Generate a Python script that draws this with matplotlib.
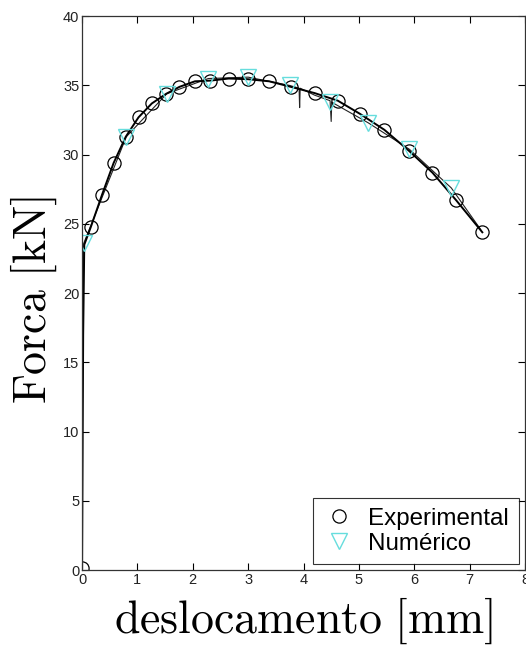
import matplotlib
matplotlib.use('Agg')
import matplotlib.pyplot as plt

# experimental points (markers)
exp_x = [0.0, 0.16, 0.36, 0.57, 0.79, 1.02, 1.26, 1.52, 1.76, 2.04, 2.32, 2.65,
         3.0, 3.38, 3.77, 4.2, 4.62, 5.02, 5.46, 5.9, 6.33, 6.76, 7.23]
exp_y = [0.15, 24.8, 27.1, 29.4, 31.3, 32.7, 33.7, 34.4, 34.9, 35.3, 35.35, 35.5,
         35.45, 35.3, 34.9, 34.45, 33.9, 32.95, 31.8, 30.3, 28.7, 26.7, 24.4]

# experimental curve (line)
exp_line_x = [0.0, 0.02, 0.04] + exp_x[1:]
exp_line_y = [0.15, 17.0, 23.5] + exp_y[1:]

# numerical points (markers)
num_x = [0.03, 0.8, 1.53, 2.28, 3.0, 3.75, 4.48, 5.17, 5.91, 6.67]
num_y = [23.6, 31.3, 34.4, 35.5, 35.6, 35.0, 33.8, 32.3, 30.4, 27.6]

# numerical curve (line), with the two small drops
num_line_x = [0.0, 0.0, 0.03, 0.8, 1.53, 2.28, 3.0, 3.75, 3.92, 3.93, 3.94, 4.2,
              4.48, 4.5, 4.51, 4.55, 5.17, 5.91, 6.67, 7.2]
num_line_y = [0.0, 8.5, 23.6, 31.3, 34.4, 35.5, 35.6, 35.0, 34.8, 33.4, 34.8, 34.3,
              33.9, 32.4, 33.8, 33.7, 32.3, 30.4, 27.6, 24.6]

plt.rcParams['mathtext.fontset'] = 'cm'
plt.rcParams['font.family'] = ['Liberation Sans', 'DejaVu Sans']

fig = plt.figure(figsize=(5.26, 6.48), dpi=100)
ax = fig.add_axes([0.156, 0.12, 0.842, 0.855])

ax.plot(num_line_x, num_line_y, color='#222222', lw=0.8)
ax.plot(exp_line_x, exp_line_y, color='black', lw=1.4)

ax.plot(exp_x, exp_y, 'o', mfc='none', mec='black', ms=9.5, mew=0.9,
        label='Experimental')
ax.plot(num_x, num_y, 'v', mfc='none', mec='#66dddd', ms=12, mew=1.0,
        label=u'Numérico')

ax.set_xlim(0, 8)
ax.set_ylim(0, 40)
ax.set_xticks(range(0, 9))
ax.set_yticks(range(0, 45, 5))
ax.tick_params(direction='in', length=5, width=0.8, top=True, right=True,
               labelsize=10.5, labelcolor='#222222', pad=2)
for s in ax.spines.values():
    s.set_linewidth(0.9)
    s.set_color('#333333')

ax.set_xlabel(r'$\mathrm{deslocamento\ [mm]}$', fontsize=33, labelpad=6)
ax.set_ylabel(r'$\mathrm{Forca\ [kN]}$', fontsize=33)
ax.yaxis.set_label_coords(-0.051, 0.488)

leg = ax.legend(loc='lower right', fontsize=17.4, frameon=True, fancybox=False,
                borderaxespad=0.25, handletextpad=0.5, labelspacing=0.12,
                borderpad=0.4, handlelength=1.4)
leg.get_frame().set_edgecolor('black')
leg.get_frame().set_linewidth(0.8)

fig.savefig('out.png', dpi=100)
